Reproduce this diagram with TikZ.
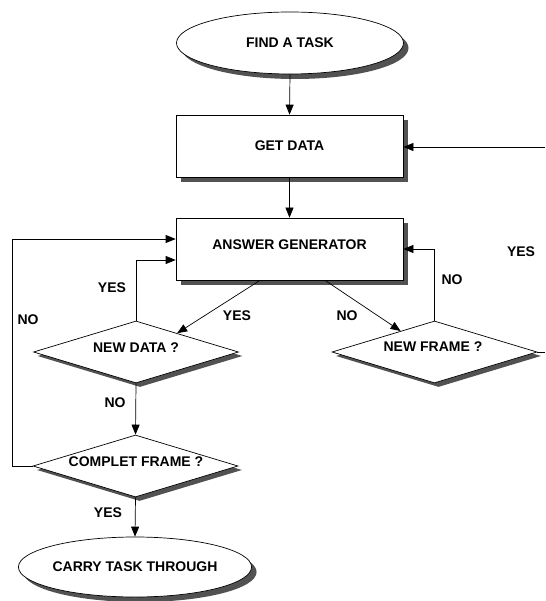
\documentclass[tikz,border=0pt]{standalone}
\usepackage{fontspec}
\setmainfont{Liberation Sans}
\usetikzlibrary{shapes.geometric,shadows,arrows.meta,calc}
\begin{document}
\begin{tikzpicture}[x=1pt,y=-1pt,
  font=\fontsize{14}{16}\selectfont\bfseries,
  every node/.style={inner sep=0pt},
  shad/.style={drop shadow={shadow xshift=5pt,shadow yshift=-5pt,fill=black!68,opacity=1}},
  term/.style={ellipse,draw,fill=white,line width=0.7pt,shad},
  proc/.style={rectangle,draw,fill=white,line width=0.7pt,minimum width=227pt,minimum height=62pt,shad},
  dec/.style={diamond,draw,fill=white,line width=0.7pt,minimum width=205pt,minimum height=62pt,aspect=3.3,
     drop shadow={shadow xshift=4pt,shadow yshift=-4pt,fill=black!68,opacity=1}},
  arr/.style={line width=0.7pt,-{Triangle[length=10pt,width=8pt]}},
  ln/.style={line width=0.7pt},
  lbl/.style={}]
\useasboundingbox (0,0) rectangle (545,601);

\node[term,minimum width=227pt,minimum height=62pt] (find) at (290,43) {FIND A TASK};
\node[proc] (get) at (289.5,146) {GET DATA};
\node[proc] (ans) at (289.5,249) {};
\node at (289.5,245) (anst) {ANSWER GENERATOR};
\node[dec] (nd) at (136,352) {};
\node at (136,348) (ndt) {NEW DATA ?};
\node[dec] (nf) at (434.5,352) {};
\node at (433,347) (nft) {NEW FRAME ?};
\node[dec] (cf) at (135.5,466) {};
\node at (136,462) (cft) {COMPLET FRAME ?};
\node[term,minimum width=226pt,minimum height=60pt] (carry) at (135,567) {CARRY TASK THROUGH};

\coordinate (rin) at (545,147);
\coordinate (rout) at (545,352);
\coordinate (nox) at (12,0);

\draw[arr] (find.south) -- (get.north);
\draw[arr] (rin) -- (rin -| get.east);
\draw[arr] (get.south) -- (ans.north);
\draw[arr] ($(ans.south)+(-29.5,0)$) -- ($(nd.north)!0.4!(nd.east)$);
\draw[arr] ($(ans.south)+(35.5,0)$) -- ($(nf.west)!0.67!(nf.north)$);
\draw[arr] (nf.north) |- (ans.east);
\draw[ln] (nf.east) -- (rout);
\draw[arr] (nd.north) |- ($(ans.west)+(0,11)$);
\draw[arr] (nd.south) -- (cf.north);
\draw[arr] (cf.west) -- (nox |- cf.west) |- ($(ans.west)+(0,-10)$);
\draw[arr] (cf.south) -- (carry.north);

\node[lbl] (l1) at (112,288) {YES};
\node[lbl] (l2) at (237,316) {YES};
\node[lbl] (l3) at (28,320) {NO};
\node[lbl] (l4) at (347,316) {NO};
\node[lbl] (l5) at (452,280) {NO};
\node[lbl] (l6) at (521,252) {YES};
\node[lbl] (l7) at (115,403) {NO};
\node[lbl] (l8) at (108,513) {YES};
\end{tikzpicture}
\end{document}
